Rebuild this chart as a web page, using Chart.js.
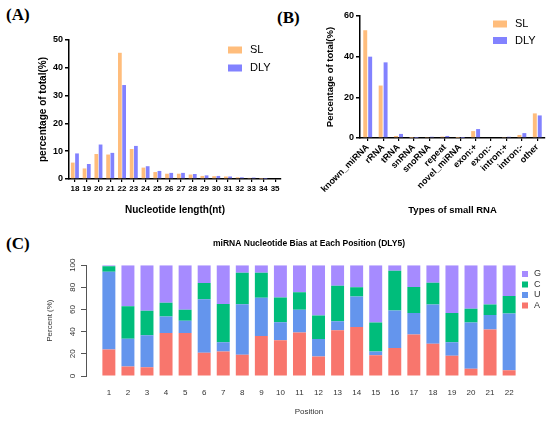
<!DOCTYPE html>
<html>
<head>
<meta charset="utf-8">
<script src="https://cdn.jsdelivr.net/npm/chart.js@4.4.1/dist/chart.umd.min.js"></script>
<style>
  html, body { margin: 0; padding: 0; background: #fff; }
  body { width: 550px; height: 423px; position: relative; overflow: hidden; }
  .panel { position: absolute; }
  .tag { position: absolute; font-family: "Liberation Serif", "Times New Roman", serif; font-weight: bold; font-size: 17px; color: #000; }
</style>
</head>
<body>
<div class="tag" style="left:6px;top:5px;">(A)</div>
<div class="tag" style="left:277px;top:8px;">(B)</div>
<div class="tag" style="left:6px;top:234px;">(C)</div>

<div class="panel" style="left:0;top:0;width:290px;height:222px;"><canvas id="lengthChart"></canvas></div>
<div class="panel" style="left:275px;top:0;width:275px;height:222px;"><canvas id="typeChart"></canvas></div>
<div class="panel" style="left:0;top:218px;width:550px;height:205px;"><canvas id="biasChart"></canvas></div>

<script>
/* ---------------- DATA ---------------- */
// (A) length distribution
const lengthLabels = ["18", "19", "20", "21", "22", "23", "24", "25", "26", "27", "28", "29", "30", "31", "32", "33", "34", "35"];
const lengthSL = [5.9, 3.8, 9.0, 8.8, 45.4, 10.8, 4.1, 2.5, 1.9, 1.9, 1.6, 1.1, 1.0, 0.9, 0.6, 0.4, 0.1, 0];
const lengthDLY = [9.2, 5.4, 12.4, 9.4, 33.8, 11.9, 4.6, 2.9, 2.2, 2.2, 1.8, 1.3, 1.1, 0.9, 0.6, 0.5, 0.1, 0];

// (B) small RNA types
const rnaTypes = ["known_miRNA", "rRNA", "tRNA", "snRNA", "snoRNA", "repeat", "novel_miRNA", "exon:+", "exon:-", "intron:+", "intron:-", "other"];
const typeSL = [53.0, 25.8, 1.0, 0.1, 0.5, 0.7, 0.1, 3.4, 0, 0.5, 1.5, 12.1];
const typeDLY = [40.0, 37.2, 2.0, 0.1, 0.6, 1.0, 0.1, 4.4, 0, 0.6, 2.4, 11.1];

// (C) nucleotide bias per position (DLY5), percent of each base
const positions = [1, 2, 3, 4, 5, 6, 7, 8, 9, 10, 11, 12, 13, 14, 15, 16, 17, 18, 19, 20, 21, 22];
const baseA = [24, 8.5, 8, 38.8, 38.8, 20.9, 22.1, 19.1, 36.1, 32.3, 39.3, 17.6, 41.4, 44.3, 18.8, 25.3, 37.5, 29.2, 18.2, 6.5, 42, 5.1];
const baseU = [70, 25.2, 28.7, 14.9, 11.1, 48.4, 8.3, 45.7, 34.6, 16.2, 20.5, 15.7, 8, 27.4, 3.2, 33.9, 19.3, 35.4, 12.2, 41.7, 13.1, 51.4];
const baseC = [5, 29.3, 22.3, 12.3, 9.8, 14.6, 34.6, 28.3, 22.4, 22.3, 15.8, 21.2, 32.1, 8.4, 26.2, 35.7, 23.6, 19.6, 26.4, 12.5, 9.5, 15.8];
const baseG = [1, 37, 41, 34, 40.3, 16.1, 35, 6.9, 6.9, 29.2, 24.4, 45.5, 18.5, 19.9, 51.8, 5.1, 19.6, 15.8, 43.2, 39.3, 35.4, 27.7];

/* ---------------- STYLE ---------------- */
const SANS = "'Liberation Sans', Arial, sans-serif";
const SL_COLOR = "#FFBD7C";
const DLY_COLOR = "#8282FF";

/* ---------------- LEGEND PLUGIN ---------------- */
// small square-swatch legend drawn at a fixed spot of the canvas
const boxLegend = {
  id: "boxLegend",
  afterDraw(chart, args, opts) {
    const ctx = chart.ctx;
    let sets = chart.data.datasets.slice();
    if (opts.reverse) sets.reverse();
    ctx.save();
    ctx.font = opts.font;
    ctx.textBaseline = "middle";
    sets.forEach((d, i) => {
      const y = opts.y + i * opts.gap;
      ctx.fillStyle = d.backgroundColor;
      ctx.fillRect(opts.x, y - opts.boxH / 2, opts.boxW, opts.boxH);
      ctx.fillStyle = opts.color;
      ctx.fillText(d.label, opts.x + opts.boxW + opts.space, y);
    });
    ctx.restore();
  }
};

/* ---------------- PANEL A ---------------- */
new Chart(document.getElementById("lengthChart"), {
  type: "bar",
  data: {
    labels: lengthLabels,
    datasets: [
      { label: "SL", data: lengthSL, backgroundColor: SL_COLOR },
      { label: "DLY", data: lengthDLY, backgroundColor: DLY_COLOR }
    ]
  },
  options: {
    animation: false,
    responsive: true,
    maintainAspectRatio: false,
    layout: { padding: { left: 35, right: 9, top: 40, bottom: 2 } },
    datasets: { bar: { categoryPercentage: 0.72, barPercentage: 0.88 } },
    scales: {
      x: {
        offset: true,
        grid: { drawOnChartArea: false, offset: false, tickLength: 3, color: "#000", lineWidth: 1.2 },
        border: { color: "#000", width: 1.5 },
        ticks: { autoSkip: false, maxRotation: 0, padding: 2, color: "#000", font: { family: SANS, size: 8, weight: "bold" } },
        title: { display: true, text: "Nucleotide length(nt)", color: "#000", padding: { top: 4, bottom: 4 }, font: { family: SANS, size: 10, weight: "bold" } },
        afterFit: (s) => { s.height = 41; }
      },
      y: {
        min: 0,
        max: 50,
        ticks: { stepSize: 10, padding: 2, color: "#000", font: { family: SANS, size: 9, weight: "bold" } },
        grid: { drawOnChartArea: false, tickLength: 4, color: "#000", lineWidth: 1.5 },
        border: { color: "#000", width: 1.5 },
        title: { display: true, text: "percentage of total(%)", color: "#000", padding: { top: 2, bottom: 2 }, font: { family: SANS, size: 10, weight: "bold" } },
        afterFit: (s) => { s.width = 34; }
      }
    },
    plugins: {
      legend: { display: false },
      tooltip: { enabled: false },
      boxLegend: { x: 228, y: 50, gap: 18, boxW: 14, boxH: 7, space: 8, font: "11px " + SANS, color: "#000" }
    }
  },
  plugins: [boxLegend]
});

/* ---------------- PANEL B ---------------- */
new Chart(document.getElementById("typeChart"), {
  type: "bar",
  data: {
    labels: rnaTypes,
    datasets: [
      { label: "SL", data: typeSL, backgroundColor: SL_COLOR },
      { label: "DLY", data: typeDLY, backgroundColor: DLY_COLOR }
    ]
  },
  options: {
    animation: false,
    responsive: true,
    maintainAspectRatio: false,
    layout: { padding: { left: 48, right: 5, top: 16, bottom: 2 } },
    datasets: { bar: { categoryPercentage: 0.64, barPercentage: 0.8 } },
    scales: {
      x: {
        offset: true,
        grid: { drawOnChartArea: false, offset: false, tickLength: 3, color: "#000", lineWidth: 1.2 },
        border: { color: "#000", width: 1.5 },
        ticks: { autoSkip: false, minRotation: 45, maxRotation: 45, padding: 1, color: "#000", font: { family: SANS, size: 9, weight: "bold" } },
        title: { display: true, text: "Types of small RNA", color: "#000", padding: { top: 4, bottom: 4 }, font: { family: SANS, size: 9.5, weight: "bold" } },
        afterFit: (s) => { s.height = 82; }
      },
      y: {
        min: 0,
        max: 60,
        ticks: { stepSize: 20, padding: 2, color: "#000", font: { family: SANS, size: 9, weight: "bold" } },
        grid: { drawOnChartArea: false, tickLength: 4, color: "#000", lineWidth: 1.5 },
        border: { color: "#000", width: 1.5 },
        title: { display: true, text: "Percentage of total(%)", color: "#000", padding: { top: 2, bottom: 2 }, font: { family: SANS, size: 9.5, weight: "bold" } },
        afterFit: (s) => { s.width = 37; }
      }
    },
    plugins: {
      legend: { display: false },
      tooltip: { enabled: false },
      boxLegend: { x: 218, y: 24, gap: 16.5, boxW: 14, boxH: 7, space: 8, font: "11px " + SANS, color: "#000" }
    }
  },
  plugins: [boxLegend]
});

/* ---------------- PANEL C ---------------- */
const toPoints = (arr) => positions.map((p, i) => ({ x: p, y: arr[i] }));

new Chart(document.getElementById("biasChart"), {
  type: "bar",
  data: {
    datasets: [
      { label: "A", data: toPoints(baseA), backgroundColor: "#F8766D" },
      { label: "U", data: toPoints(baseU), backgroundColor: "#6495ED" },
      { label: "C", data: toPoints(baseC), backgroundColor: "#00BD7B" },
      { label: "G", data: toPoints(baseG), backgroundColor: "#A68BFF" }
    ]
  },
  options: {
    animation: false,
    responsive: true,
    maintainAspectRatio: false,
    layout: { padding: { left: 43, right: 18, top: 0, bottom: 4 } },
    datasets: { bar: { categoryPercentage: 1, barPercentage: 0.68 } },
    scales: {
      x: {
        type: "linear",
        offset: false,
        stacked: true,
        min: -0.2,
        max: 23.2,
        afterBuildTicks: (s) => { s.ticks = positions.map((p) => ({ value: p })); },
        grid: { display: false },
        border: { display: false },
        ticks: { autoSkip: false, maxRotation: 0, padding: 4, color: "#333", font: { family: SANS, size: 8 } },
        title: { display: true, text: "Position", color: "#333", padding: { top: 4, bottom: 2 }, font: { family: SANS, size: 8 } },
        afterFit: (s) => { s.height = 43; }
      },
      y: {
        stacked: true,
        min: 0,
        max: 100,
        ticks: { stepSize: 20, minRotation: 90, maxRotation: 90, crossAlign: "center", padding: 2, color: "#333", font: { family: SANS, size: 8 } },
        grid: { drawOnChartArea: false, tickLength: 5, color: "#555" },
        border: { color: "#555" },
        title: { display: true, text: "Percent (%)", color: "#333", padding: { top: 2, bottom: 2 }, font: { family: SANS, size: 8 } },
        afterFit: (s) => { s.width = 43; }
      }
    },
    plugins: {
      legend: { display: false },
      tooltip: { enabled: false },
      title: {
        display: true,
        text: "miRNA Nucleotide Bias at Each Position (DLY5)",
        color: "#000",
        fullSize: false,
        padding: { top: 21, bottom: 16 },
        font: { family: SANS, size: 8.5, weight: "bold" }
      },
      boxLegend: { x: 522, y: 56, gap: 10.5, boxW: 6, boxH: 6, space: 6, font: "9px " + SANS, color: "#333", reverse: true }
    }
  },
  plugins: [boxLegend]
});
</script>
</body>
</html>
